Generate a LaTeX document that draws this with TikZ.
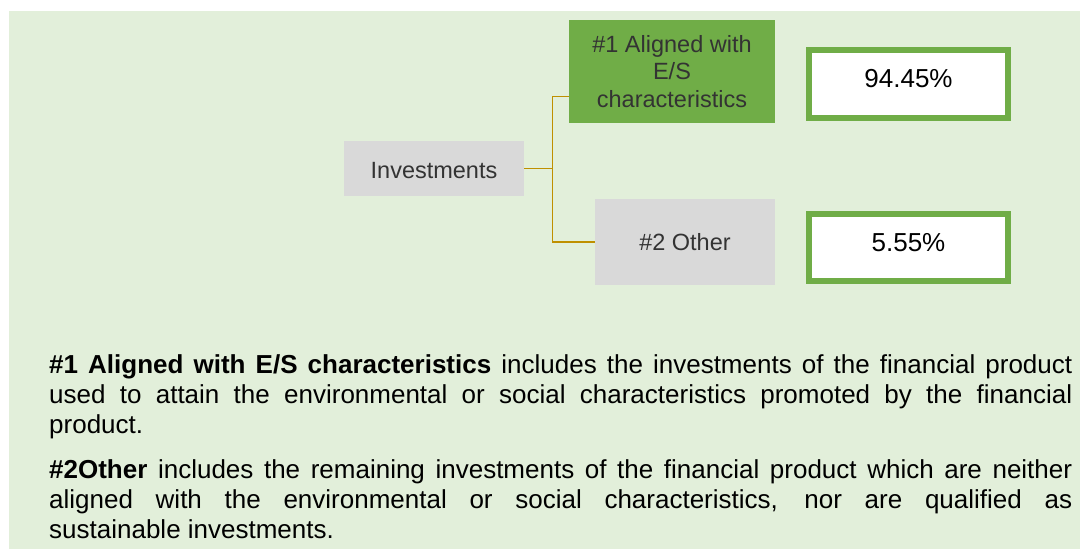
\documentclass[tikz,border=0pt]{standalone}
\usepackage{fontspec}
\setmainfont{Liberation Sans}
\definecolor{bggreen}{HTML}{E2EFDA}
\definecolor{leafgreen}{HTML}{70AD47}
\definecolor{boxgray}{HTML}{D9D9D9}
\definecolor{linkgold}{HTML}{BF9000}
\definecolor{darktext}{HTML}{333333}
\tikzset{
    catbox/.style={inner sep=0pt, align=center, text=darktext, font=\fontsize{23.5}{27.5}\selectfont},
    pctbox/.style={draw=leafgreen, line width=6pt, fill=white, inner sep=0pt, minimum width=199pt, font=\fontsize{26}{30}\selectfont},
    link/.style={draw=linkgold, line width=1.5pt},
    notepar/.style={anchor=north west, inner sep=0pt, text width=1023pt, align=justify, font=\fontsize{26}{30}\selectfont}
}
\begin{document}
\begin{tikzpicture}[x=1pt, y=-1pt]
    \useasboundingbox (0,0) rectangle (1080,551);
    \fill[bggreen] (9,11) rectangle (1080,549);

    % tree boxes
    \node[catbox, fill=boxgray, minimum width=180pt, minimum height=55pt] (inv) at (434,168.5) {\raisebox{-2pt}[\height][\depth]{Investments}};
    \node[catbox, fill=leafgreen, minimum width=206pt, minimum height=103pt] (al) at (672,71.5) {\#1 Aligned with\\E/S\\characteristics};
    \node[catbox, fill=boxgray, minimum width=180pt, minimum height=86pt] (oth) at (685,242) {\#2 Other};

    % shares
    \node[pctbox, minimum height=68pt] (alpct) at (908.5,84) {\raisebox{5pt}[\height][\depth]{94.45\%}};
    \node[pctbox, minimum height=67pt] (othpct) at (908.5,247.5) {\raisebox{5pt}[\height][\depth]{5.55\%}};

    % connectors
    \coordinate (split) at (552.5,168.5);
    \draw[link] (inv.east) -- (split);
    \draw[link] (split) |- ([yshift=-25pt]al.west);
    \draw[link] (split) |- (oth.west);

    % notes
    \node[notepar] (note1) at (49,354.5) {\textbf{\#1 Aligned with E/S characteristics} includes the investments of the financial product\linebreak used to attain the environmental or social characteristics promoted by the financial\linebreak product.};
    \node[notepar] (note2) at (49,459.5) {\textbf{\#2Other} includes the remaining investments of the financial product which are neither\linebreak aligned with the environmental or social characteristics, nor are qualified as\linebreak sustainable investments.};
\end{tikzpicture}
\end{document}
